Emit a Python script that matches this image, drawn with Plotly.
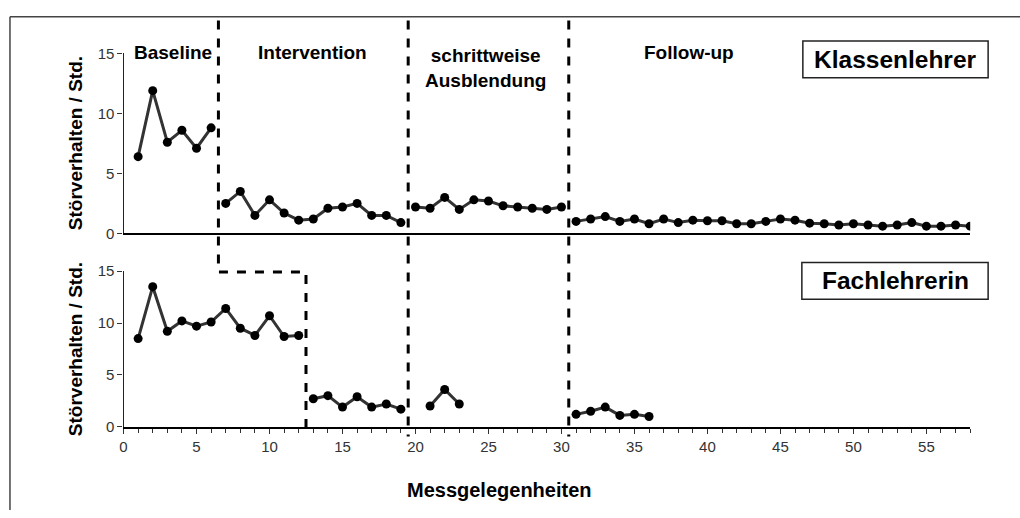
import plotly.graph_objects as go

# ---------------- data ----------------
sessions = list(range(1, 59))
klassenlehrer = [6.4, 11.9, 7.6, 8.6, 7.1, 8.8,
                 2.5, 3.5, 1.5, 2.8, 1.7, 1.1, 1.2, 2.1, 2.2, 2.5, 1.5, 1.5, 0.9,
                 2.2, 2.1, 3.0, 2.0, 2.8, 2.7, 2.3, 2.2, 2.1, 2.0, 2.2,
                 1.0, 1.2, 1.4, 1.0, 1.2, 0.8, 1.2, 0.9, 1.1, 1.05, 1.05, 0.8, 0.8, 1.0,
                 1.2, 1.1, 0.85, 0.8, 0.7, 0.8, 0.7, 0.6, 0.7, 0.9, 0.6, 0.6, 0.7, 0.6]
fachlehrerin = [8.5, 13.5, 9.2, 10.2, 9.7, 10.1, 11.4, 9.5, 8.8, 10.7, 8.7, 8.8,
                2.7, 3.0, 1.9, 2.9, 1.9, 2.2, 1.7,
                None, 2.0, 3.6, 2.2, None, None, None, None, None, None, None,
                1.2, 1.5, 1.9, 1.1, 1.2, 1.0] + [None] * 22
phase_bounds_top = [6.5, 19.5, 30.5]
phase_bounds_bottom = [12.5, 19.5, 30.5]
phase_labels = ["Baseline", "Intervention", "schrittweise<br>Ausblendung", "Follow-up"]
panel_labels = ["Klassenlehrer", "Fachlehrerin"]
y_ticks = [0, 5, 10, 15]
x_ticks = list(range(0, 56, 5))

W, H = 1020, 518
def px(v):
    return v / W
def py(v):
    return 1 - v / H

fig = go.Figure()

def add_segments(values, bounds, xa, ya):
    edges = [0] + bounds + [100]
    for i in range(len(edges) - 1):
        xs, ys = [], []
        for s, v in zip(sessions, values):
            if edges[i] < s < edges[i + 1]:
                xs.append(s)
                ys.append(v)
        fig.add_trace(go.Scatter(
            x=xs, y=ys, xaxis=xa, yaxis=ya, mode="lines+markers",
            line=dict(color="#333333", width=3),
            marker=dict(color="black", size=9),
            connectgaps=False, hoverinfo="skip"))

add_segments(klassenlehrer, phase_bounds_top, "x", "y")
add_segments(fachlehrerin, phase_bounds_bottom, "x2", "y2")

axis_font = dict(family="Liberation Sans, Arial, sans-serif", size=15, color="#333333")

fig.update_layout(
    width=W, height=H,
    margin=dict(l=0, r=0, t=0, b=0),
    paper_bgcolor="white", plot_bgcolor="white",
    showlegend=False,
    xaxis=dict(domain=[px(120), px(970)], range=[0, 58], anchor="y",
               showticklabels=False, ticks="", showgrid=False, zeroline=False,
               showline=True, linecolor="black", linewidth=2),
    yaxis=dict(domain=[py(232), py(46)], range=[0, 15], tickvals=y_ticks,
               ticks="outside", ticklen=5, tickcolor="#333", showgrid=False,
               zeroline=False, showline=True, linecolor="#222", linewidth=1.2,
               tickfont=axis_font, anchor="x"),
    xaxis2=dict(domain=[px(120), px(970)], range=[0, 58], anchor="y2", matches="x",
                tickvals=x_ticks, ticks="outside", ticklen=5, tickcolor="#333",
                minor=dict(dtick=1, tick0=0, ticks="outside", ticklen=4, tickcolor="#333"),
                showgrid=False, zeroline=False, showline=True, linecolor="black",
                linewidth=2, tickfont=axis_font),
    yaxis2=dict(domain=[py(432), py(271)], range=[0, 15], tickvals=y_ticks,
                ticks="outside", ticklen=5, tickcolor="#333", showgrid=False,
                zeroline=False, showline=True, linecolor="#222", linewidth=1.2,
                tickfont=axis_font, anchor="x2"),
)

dash_style = dict(color="black", width=3, dash="dash")
shapes = []
# phase lines spanning both panels
for b in phase_bounds_top[1:]:
    shapes.append(dict(type="line", xref="x", yref="paper", x0=b, x1=b,
                       y0=py(12), y1=py(442), line=dash_style))
# staggered baseline line
shapes.append(dict(type="path", xref="x", yref="paper",
                   path=f"M {phase_bounds_top[0]},{py(12)} L {phase_bounds_top[0]},{py(272)} "
                        f"L {phase_bounds_bottom[0]},{py(272)} L {phase_bounds_bottom[0]},{py(442)}",
                   line=dash_style))
# panel label boxes
shapes.append(dict(type="rect", xref="paper", yref="paper", x0=px(802), x1=px(988),
                   y0=py(71), y1=py(33), line=dict(color="#222", width=1.5)))
shapes.append(dict(type="rect", xref="paper", yref="paper", x0=px(801), x1=px(988),
                   y0=py(300), y1=py(262), line=dict(color="#222", width=1.5)))
# outer frame (top and left edges)
shapes.append(dict(type="line", xref="paper", yref="paper", x0=px(6), x1=1,
                   y0=py(8), y1=py(8), line=dict(color="#444", width=1.5)))
shapes.append(dict(type="line", xref="paper", yref="paper", x0=px(6), x1=px(6),
                   y0=py(8), y1=0, line=dict(color="#444", width=1.5)))
fig.update_layout(shapes=shapes)

bold = dict(family="Liberation Sans, Arial, sans-serif", size=19, color="black")
ann = []
phase_pos = [(170, 45), (310, 45), (483, 61), (688, 45)]
for lab, (ax_, ay_) in zip(phase_labels, phase_pos):
    ann.append(dict(text=f"<b>{lab}</b>", x=px(ax_), y=py(ay_), xref="paper", yref="paper",
                    showarrow=False, xanchor="center", yanchor="middle", font=bold))
box_font = dict(family="Liberation Sans, Arial, sans-serif", size=24.5, color="black")
ann.append(dict(text=f"<b>{panel_labels[0]}</b>", x=px(895), y=py(52), xref="paper", yref="paper",
                showarrow=False, xanchor="center", yanchor="middle", font=box_font))
ann.append(dict(text=f"<b>{panel_labels[1]}</b>", x=px(895), y=py(281), xref="paper", yref="paper",
                showarrow=False, xanchor="center", yanchor="middle", font=box_font))
for cy in (139, 352):
    ann.append(dict(text="<b>Störverhalten / Std.</b>", x=px(72), y=py(cy), xref="paper", yref="paper",
                    showarrow=False, textangle=-90, xanchor="center", yanchor="middle", font=bold))
ann.append(dict(text="<b>Messgelegenheiten</b>", x=px(497), y=py(497), xref="paper", yref="paper",
                showarrow=False, xanchor="center", yanchor="middle",
                font=dict(family="Liberation Sans, Arial, sans-serif", size=20, color="black")))
fig.update_layout(annotations=ann)

fig.write_html("out.html", config={"displayModeBar": False},
               post_script="document.body.style.margin='0';document.body.style.overflow='hidden';")
